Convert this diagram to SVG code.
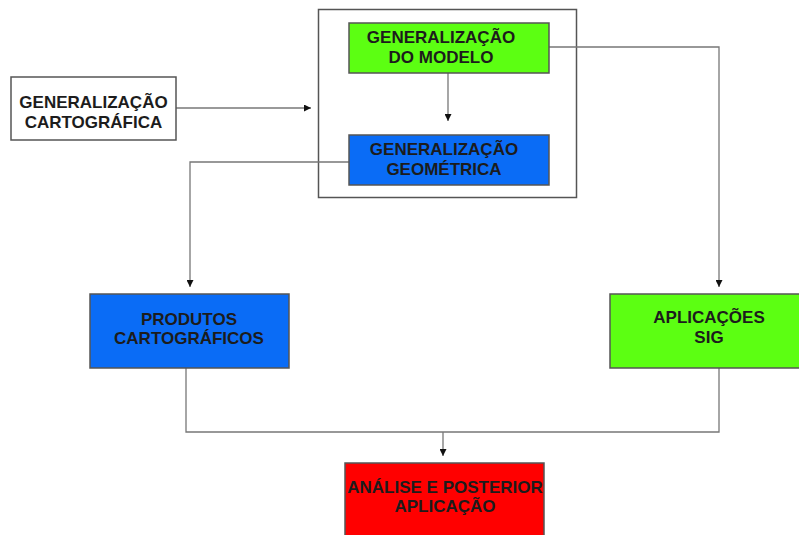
<svg xmlns="http://www.w3.org/2000/svg" width="799" height="535" viewBox="0 0 799 535">
  <defs>
    <marker id="arrow" viewBox="0 0 8 8" refX="8" refY="4" markerWidth="7" markerHeight="7" markerUnits="userSpaceOnUse" orient="auto">
      <path d="M0,0 L8,4 L0,8 Z" fill="#111"/>
    </marker>
    <style>
      .box { stroke: #555; stroke-width: 1.5; }
      .white { fill: #ffffff; }
      .green { fill: #5cff12; }
      .blue { fill: #0a6cf6; }
      .red { fill: #ff0000; }
      .frame { fill: none; stroke: #555; stroke-width: 1.5; }
      .lbl { font-family: "Liberation Sans", Arial, sans-serif; font-weight: bold; font-size: 17px; text-anchor: middle; fill: #1c1c1c; }
      .conn { fill: none; stroke: #777; stroke-width: 1.3; }
    </style>
  </defs>
  <rect width="799" height="535" fill="#ffffff"/>

  <!-- container around the two generalization steps -->
  <rect id="container" class="frame" x="318.5" y="9.5" width="258" height="188"/>

  <g id="connectors">
    <path class="conn" d="M176,108 H311" marker-end="url(#arrow)"/>
    <path class="conn" d="M448,73 V121" marker-end="url(#arrow)"/>
    <path class="conn" d="M549,47 H719 V287" marker-end="url(#arrow)"/>
    <path class="conn" d="M349,162 H190 V287" marker-end="url(#arrow)"/>
    <path class="conn" d="M186,368 V432 H719 V368"/>
    <path class="conn" d="M443,432 V456" marker-end="url(#arrow)"/>
  </g>

  <g id="generalizacao-cartografica">
    <rect class="box white" x="11" y="77" width="165" height="63"/>
    <text class="lbl" x="93.5" y="108">GENERALIZAÇÃO</text>
    <text class="lbl" x="93.5" y="128">CARTOGRÁFICA</text>
  </g>

  <g id="generalizacao-modelo">
    <rect class="box green" x="349" y="23" width="200" height="50"/>
    <text class="lbl" x="441" y="43">GENERALIZAÇÃO</text>
    <text class="lbl" x="441" y="63">DO MODELO</text>
  </g>

  <g id="generalizacao-geometrica">
    <rect class="box blue" x="349" y="135" width="200" height="50"/>
    <text class="lbl" x="444" y="155">GENERALIZAÇÃO</text>
    <text class="lbl" x="444" y="175">GEOMÉTRICA</text>
  </g>

  <g id="produtos-cartograficos">
    <rect class="box blue" x="90" y="294" width="199" height="74"/>
    <text class="lbl" x="189" y="325">PRODUTOS</text>
    <text class="lbl" x="189" y="344">CARTOGRÁFICOS</text>
  </g>

  <g id="aplicacoes-sig">
    <rect class="box green" x="610" y="294" width="192" height="74"/>
    <text class="lbl" x="709" y="323">APLICAÇÕES</text>
    <text class="lbl" x="709" y="343">SIG</text>
  </g>

  <g id="analise-aplicacao">
    <rect class="box red" x="345" y="463" width="199" height="75"/>
    <text class="lbl" x="445" y="493">ANÁLISE E POSTERIOR</text>
    <text class="lbl" x="445" y="512">APLICAÇÃO</text>
  </g>
</svg>
